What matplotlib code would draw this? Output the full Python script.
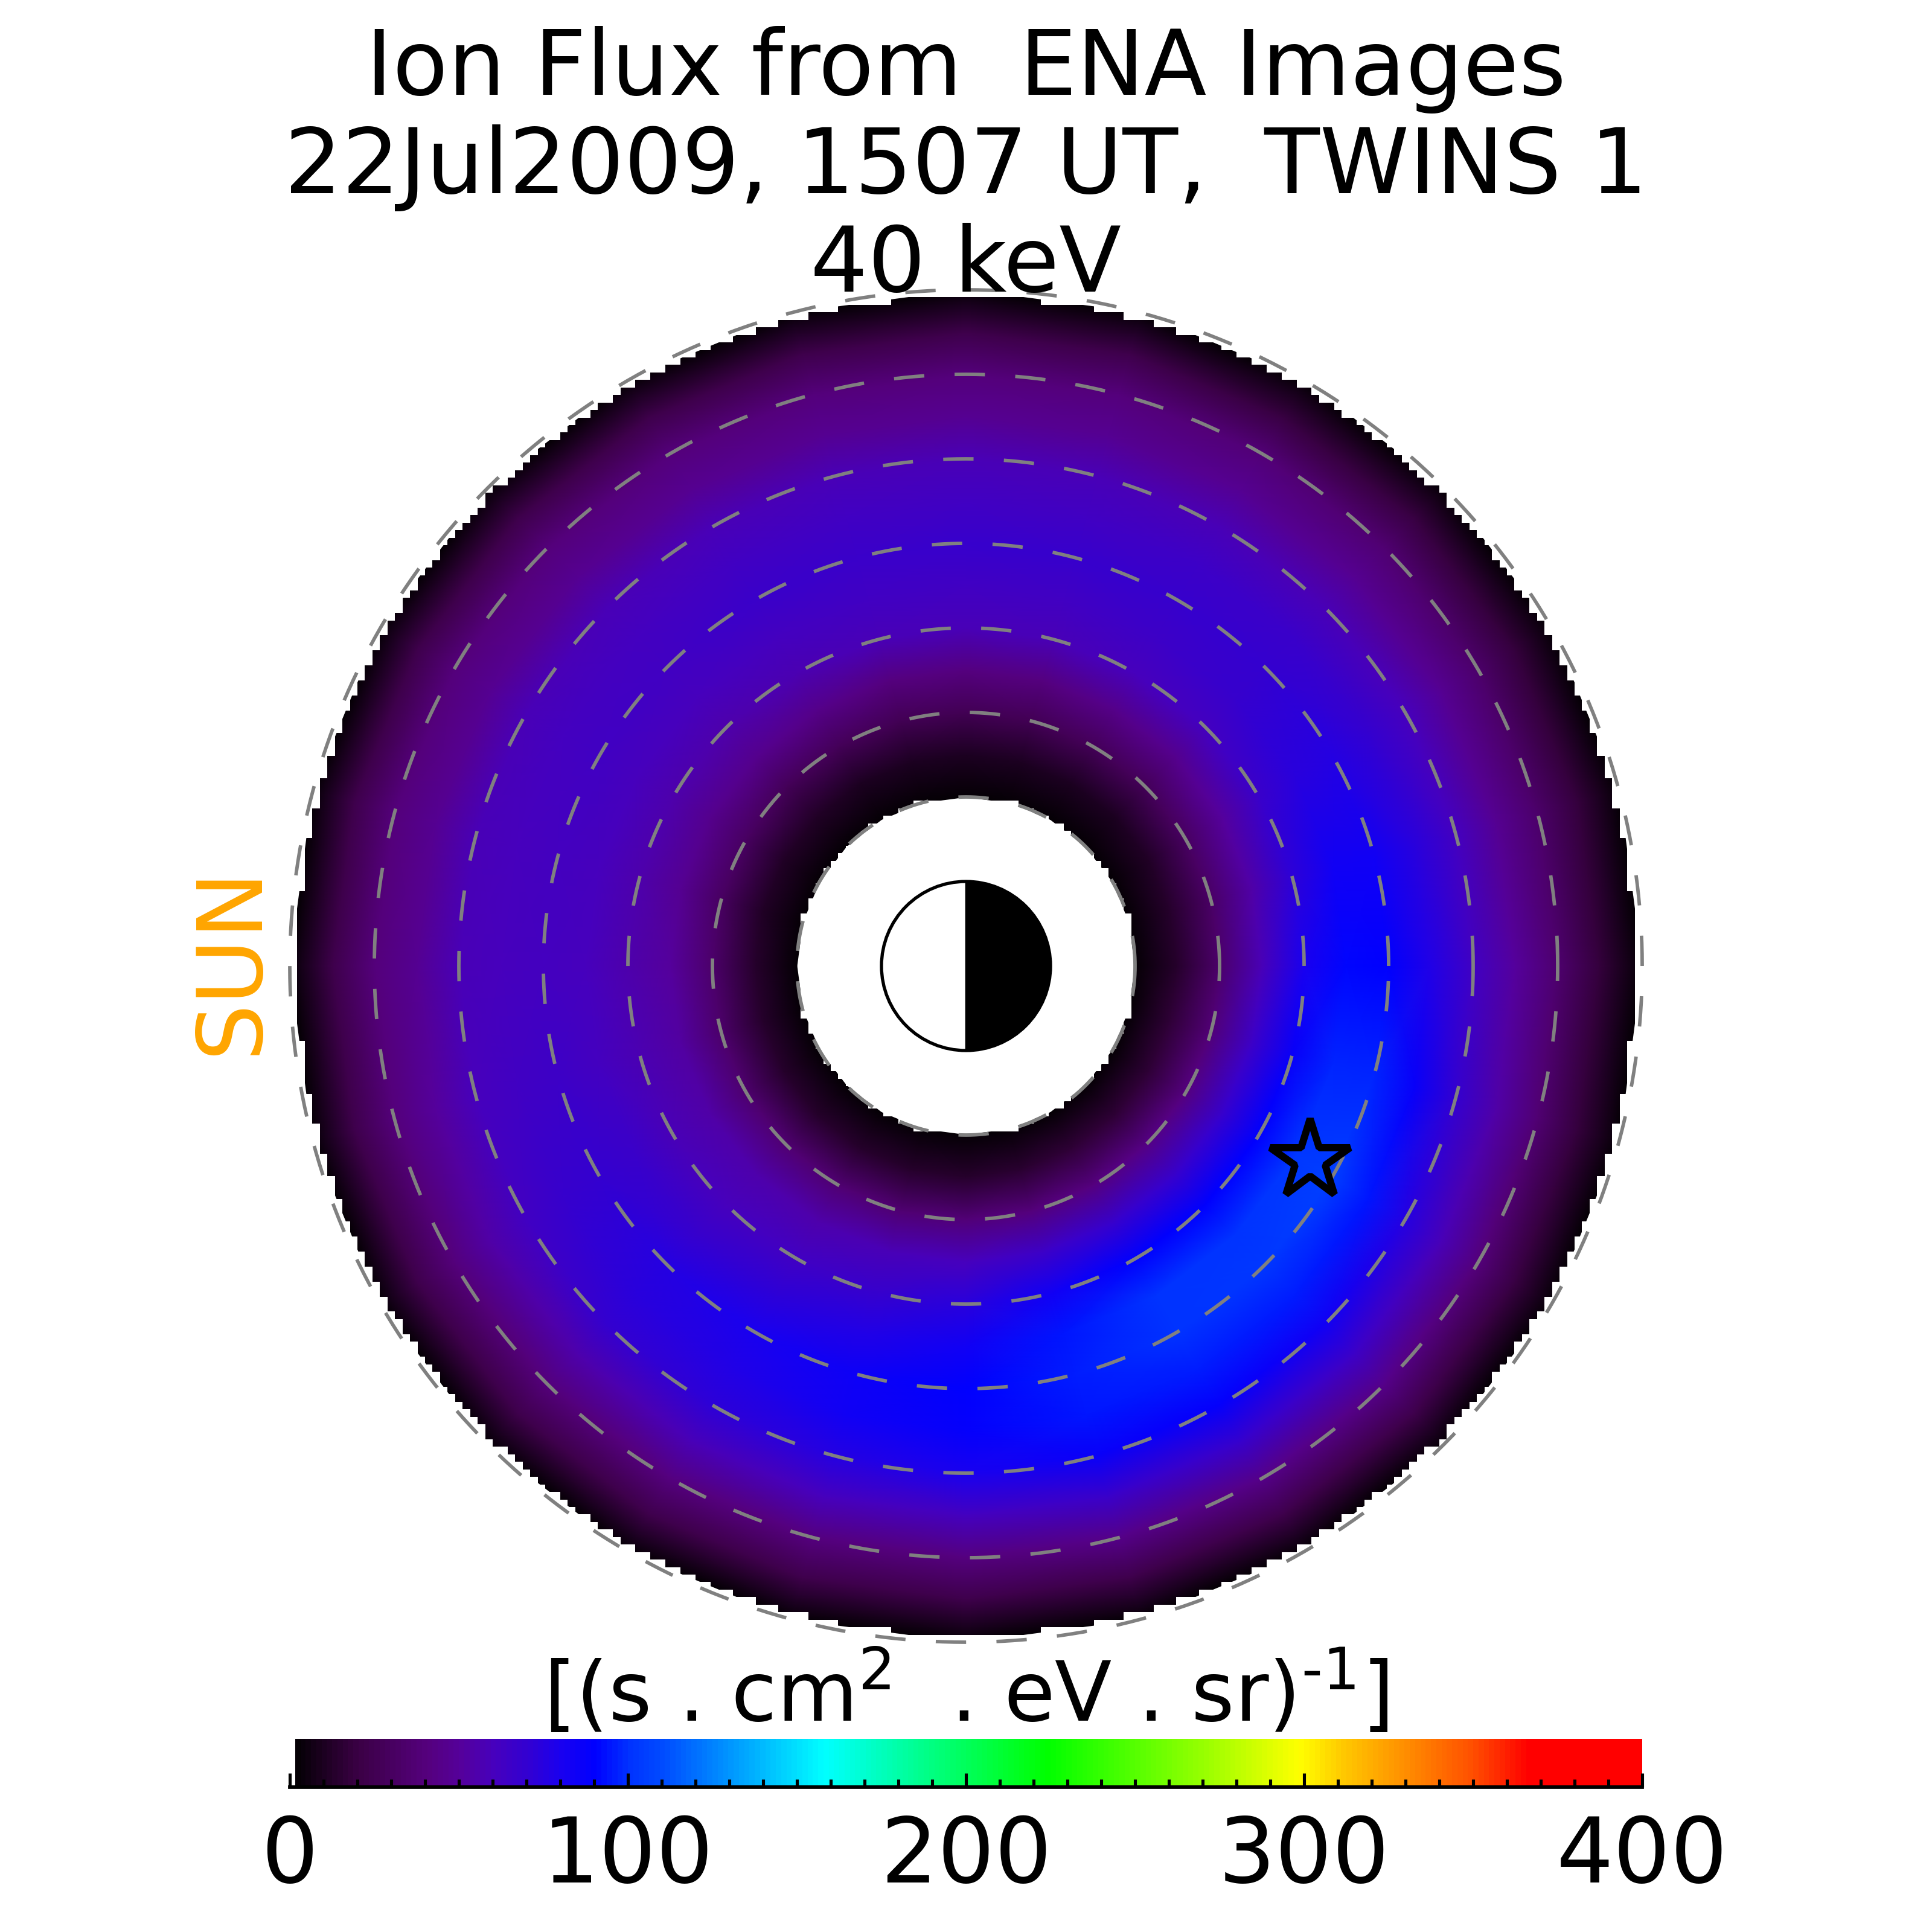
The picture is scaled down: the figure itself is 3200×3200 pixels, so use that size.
import numpy as np
import matplotlib
matplotlib.use("Agg")
import matplotlib.pyplot as plt
from matplotlib.colors import LinearSegmentedColormap, ListedColormap
from matplotlib.patches import Circle, Wedge
from matplotlib.path import Path

# flux, one list per radial distance (RE)
# azimuth runs every 15 deg counter-clockwise from +x (anti-sunward)
azimuth_deg = [0, 15, 30, 45, 60, 75, 90, 105, 120, 135, 150, 165,
               180, 195, 210, 225, 240, 255, 270, 285, 300, 315, 330, 345]
radius_re = [2.0, 2.5, 3.0, 3.5, 4.0, 4.5, 5.0, 5.5, 6.0, 6.5, 7.0, 7.5, 8.0]
flux_r20 = [2] * 24
flux_r25 = [14, 13, 11, 10, 10, 10, 10, 10, 10, 11, 12, 12, 13, 13, 14, 14, 14, 14, 14, 15, 16, 17, 17, 16]
flux_r30 = [34, 32, 30, 28, 27, 26, 26, 26, 27, 28, 30, 31, 33, 34, 35, 36, 36, 37, 38, 40, 42, 43, 42, 38]
flux_r35 = [58, 54, 50, 46, 44, 42, 42, 42, 44, 46, 46, 48, 50, 52, 54, 55, 56, 58, 60, 65, 68, 68, 68, 65]
flux_r40 = [80, 72, 66, 62, 60, 58, 58, 58, 57, 56, 56, 56, 56, 57, 58, 60, 64, 68, 74, 84, 90, 90, 90, 86]
flux_r45 = [92, 84, 74, 68, 65, 64, 64, 63, 62, 60, 60, 60, 60, 62, 66, 68, 72, 78, 84, 94, 100, 101, 103, 98]
flux_r50 = [90, 84, 75, 70, 68, 68, 68, 67, 66, 64, 63, 62, 62, 65, 70, 75, 80, 85, 90, 96, 100, 102, 106, 98]
flux_r55 = [78, 74, 70, 67, 65, 64, 64, 64, 63, 62, 61, 60, 60, 63, 68, 74, 78, 84, 88, 94, 96, 96, 94, 87]
flux_r60 = [64, 62, 60, 58, 58, 58, 58, 58, 58, 58, 58, 58, 58, 60, 64, 70, 72, 76, 80, 86, 88, 84, 76, 70]
flux_r65 = [50, 48, 48, 48, 48, 48, 48, 48, 48, 48, 48, 48, 48, 50, 54, 56, 58, 60, 62, 66, 68, 65, 58, 54]
flux_r70 = [35, 34, 34, 36, 38, 40, 40, 40, 40, 40, 40, 40, 40, 40, 40, 40, 42, 42, 42, 44, 45, 45, 40, 36]
flux_r75 = [18, 18, 18, 20, 20, 22, 22, 22, 22, 22, 22, 22, 22, 22, 22, 22, 22, 22, 22, 23, 23, 23, 20, 18]
flux_r80 = [2] * 24

ring_radii = [2, 3, 4, 5, 6, 7, 8]
star_x = 4.07
star_y = -2.3
cbar_ticks = [0, 100, 200, 300, 400]

title_lines = ["Ion Flux from  ENA Images", "22Jul2009, 1507 UT,  TWINS 1", "40 keV"]
cbar_label = r"[(s . cm$^{2}$  . eV . sr)$^{\text{-1}}$]"

# rainbow + black table, white at the bottom for "no data"
cmap_vals = [0, 20, 40, 50, 60, 70, 80, 90, 100, 110, 130, 158, 190, 224, 271, 299, 312, 331, 350, 367, 400]
cmap_cols = ["#000000", "#3c0046", "#55007d", "#55009b", "#4600be", "#3200d2", "#1900f0", "#0000ff",
             "#0032ff", "#004bff", "#0096ff", "#00ffff", "#00ff80", "#00ff00", "#99ff00", "#ffff00",
             "#ffc800", "#ff8c00", "#ff5000", "#ff0000", "#ff0000"]

flux = np.array([flux_r20, flux_r25, flux_r30, flux_r35, flux_r40, flux_r45, flux_r50,
                 flux_r55, flux_r60, flux_r65, flux_r70, flux_r75, flux_r80], dtype=float)

ramp = LinearSegmentedColormap.from_list("rb", [(v / 400, c) for v, c in zip(cmap_vals, cmap_cols)], N=256)
lut = ramp(np.arange(256))
lut[0] = (1, 1, 1, 1)
cmap = ListedColormap(lut)

fig = plt.figure(figsize=(10, 10), dpi=320)
ax = fig.add_axes([0.15, 0.15, 0.7, 0.7])
ax.set_xlim(-8, 8)
ax.set_ylim(-8, 8)
ax.axis("off")

# close the table in azimuth so the mesh has no seam
az = np.deg2rad(azimuth_deg + [360])
rr, tt = np.meshgrid(radius_re, az, indexing="ij")
closed = np.column_stack([flux, flux[:, 0]])
mesh = ax.pcolormesh(rr * np.cos(tt), rr * np.sin(tt), closed, shading="gouraud",
                     cmap=cmap, vmin=0, vmax=400, zorder=1)

# the original is on a 180x180 grid, so its edge is stepped: clip to those cells
edges = np.linspace(-8, 8, 181)
centers = 0.5 * (edges[:-1] + edges[1:])
verts = []
codes = []
for j, yc in enumerate(centers):
    inside = (np.hypot(centers, yc) >= 2.0) & (np.hypot(centers, yc) <= 7.92)
    i = 0
    while i < 180:
        if inside[i]:
            k = i
            while k + 1 < 180 and inside[k + 1]:
                k += 1
            verts += [(edges[i], edges[j]), (edges[k + 1], edges[j]), (edges[k + 1], edges[j + 1]),
                      (edges[i], edges[j + 1]), (edges[i], edges[j])]
            codes += [Path.MOVETO, Path.LINETO, Path.LINETO, Path.LINETO, Path.CLOSEPOLY]
            i = k + 1
        else:
            i += 1
mesh.set_clip_path(Path(verts, codes), ax.transData)

# dashed L shells, started at angle 0 like the original
theta = np.linspace(0, 2 * np.pi, 721)
for r in ring_radii:
    ax.plot(r * np.cos(theta), r * np.sin(theta), color="#808080", lw=1.3,
            linestyle=(0, (8.7, 8.7)), dash_capstyle="butt", zorder=3, clip_on=False)

# earth, dark side away from the sun
ax.add_patch(Circle((0, 0), 1, facecolor="white", edgecolor="black", lw=1.2, zorder=4))
ax.add_patch(Wedge((0, 0), 1, -90, 90, facecolor="black", edgecolor="black", lw=0.6, zorder=5))

ax.plot([star_x], [star_y], marker="*", ms=31, mfc="none", mec="black", mew=2.7, zorder=4, ls="none")

ax.text(-8.69, 0.07, "SUN", color="orange", fontsize=33.5, rotation=90, ha="center", va="center")
# y given explicitly, otherwise matplotlib pushes the title back above the axes
ax.set_title("\n".join(title_lines), fontsize=33.75, y=1.0, pad=-0.7, linespacing=1.16)

cax = fig.add_axes([0.15, 0.075, 0.7, 0.025])
levels = np.linspace(0, 400, 257)
cax.pcolormesh(levels, [0, 1], ((levels[:-1] + levels[1:]) / 2).reshape(1, -1), cmap=cmap, vmin=0, vmax=400)
cax.set_xlim(0, 400)
cax.set_ylim(0, 1)
cax.set_yticks([])
for side in ["left", "right", "top"]:
    cax.spines[side].set_visible(False)
cax.spines["bottom"].set_linewidth(1.3)
cax.set_xticks(cbar_ticks)
cax.set_xticks(np.arange(0, 401, 10), minor=True)
cax.tick_params(axis="x", which="major", direction="in", length=5.2, width=1.15, labelsize=33.5, pad=10)
cax.tick_params(axis="x", which="minor", direction="in", length=3, width=1.15)
cax.set_title(cbar_label, fontsize=31, pad=3)

fig.savefig("out.png", dpi=320)
